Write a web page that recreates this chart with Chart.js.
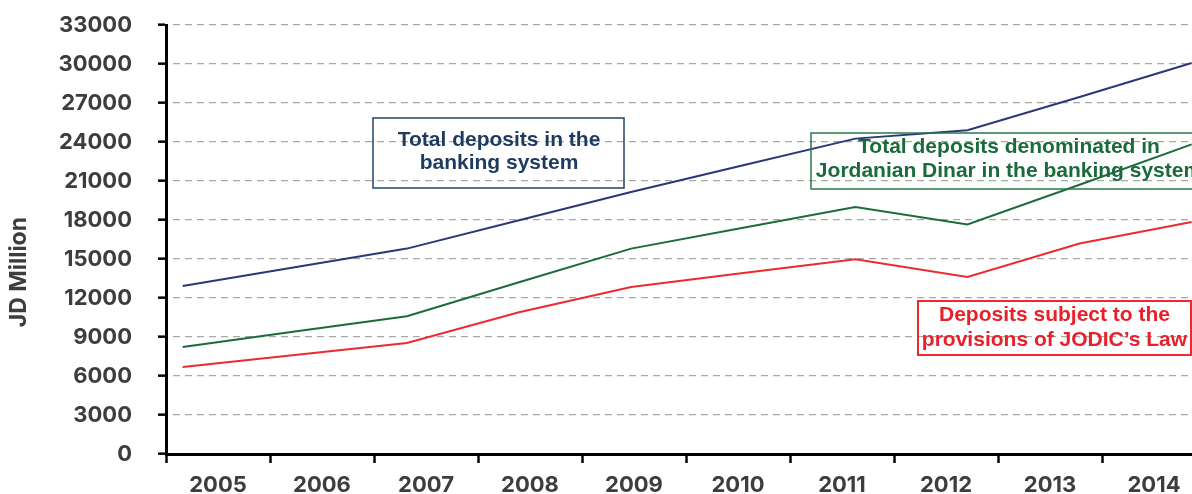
<!DOCTYPE html>
<html>
<head>
<meta charset="utf-8">
<script src="https://cdn.jsdelivr.net/npm/chart.js@4/dist/chart.umd.min.js"></script>
<style>
  html, body { margin: 0; padding: 0; background: #ffffff; overflow: hidden; }
  #wrap { position: relative; width: 1215px; height: 494px; }
</style>
</head>
<body>
<div id="wrap"><canvas id="chart"></canvas></div>
<script>
// Years on the category axis
const years = ['2005', '2006', '2007', '2008', '2009', '2010', '2011', '2012', '2013', '2014'];

// Deposits, JD million
const totalDeposits = [12920, 14360, 15800, 17980, 20150, 22210, 24260, 24900, 27460, 30080];
const dinarDeposits = [8230, 9420, 10590, 13210, 15800, 17400, 19000, 17650, 20710, 23820];
const jodicDeposits = [6690, 7620, 8540, 10900, 12850, 13920, 14980, 13620, 16190, 17850];

// Value axis labels
const yTickLabels = ['0', '3000', '6000', '9000', '12000', '15000', '18000', '21000', '24000', '27000', '30000', '33000'];

const axisFont = { family: 'Inter', size: 22, weight: 'bold', lineHeight: 1 };
const axisText = '#3d3d3d';

// Series points sit on their own hidden index axis
const toPoints = vals => vals.map((v, i) => ({ x: i, y: v }));

// Captions with frames, drawn over the lines
const captions = [
  { lines: ['Total deposits in the', 'banking system'], color: '#1c3b5e', border: '#1f4468',
    rect: [373, 118, 251, 70], cx: 499, ys: [140, 163.5], bw: 1.5 },
  { lines: ['Total deposits denominated in', 'Jordanian Dinar in the banking system'], color: '#1a6a3c', border: '#2b7a4c',
    rect: [811, 133, 397, 56], cx: 1009, ys: [147.5, 171.5], bw: 1.5 },
  { lines: ['Deposits subject to the', 'provisions of JODIC\u2019s Law'], color: '#e8202a', border: '#ec2a32',
    rect: [918, 301, 273, 54], cx: 1054.5, ys: [315.5, 340.5], bw: 2 }
];

const captionPlugin = {
  id: 'captions',
  afterDatasetsDraw(chart) {
    const ctx = chart.ctx;
    ctx.save();
    captions.forEach(c => {
      ctx.lineWidth = c.bw;
      ctx.strokeStyle = c.border;
      ctx.strokeRect(c.rect[0], c.rect[1], c.rect[2], c.rect[3]);
      ctx.fillStyle = c.color;
      ctx.font = 'bold 21px "Liberation Sans", Arial, sans-serif';
      ctx.textAlign = 'center';
      ctx.textBaseline = 'middle';
      c.lines.forEach((t, i) => ctx.fillText(t, c.cx, c.ys[i]));
    });
    ctx.restore();
  }
};

// Rotated value-axis title, set a little below the axis middle
const axisTitlePlugin = {
  id: 'axisTitle',
  afterDraw(chart) {
    const { ctx, chartArea } = chart;
    const y = chartArea.top + (chartArea.bottom - chartArea.top) * 0.576;
    ctx.save();
    ctx.translate(19, y);
    ctx.rotate(-Math.PI / 2);
    ctx.font = 'bold 23px Inter, sans-serif';
    ctx.fillStyle = axisText;
    ctx.textAlign = 'center';
    ctx.textBaseline = 'middle';
    ctx.fillText('JD Million', 0, 0);
    ctx.restore();
  }
};

const lineStyle = color => ({
  borderColor: color,
  backgroundColor: color,
  borderWidth: 2,
  pointRadius: 0,
  pointHoverRadius: 0,
  tension: 0,
  fill: false,
  xAxisID: 'x2',
  yAxisID: 'y'
});

new Chart(document.getElementById('chart'), {
  type: 'line',
  data: {
    labels: years,
    datasets: [
      { label: 'Total deposits in the banking system', data: toPoints(totalDeposits), ...lineStyle('#2c3778') },
      { label: 'Total deposits denominated in Jordanian Dinar in the banking system', data: toPoints(dinarDeposits), ...lineStyle('#1c6b3a') },
      { label: 'Deposits subject to the provisions of JODIC\u2019s Law', data: toPoints(jodicDeposits), ...lineStyle('#ee2a2e') }
    ]
  },
  options: {
    responsive: true,
    maintainAspectRatio: false,
    animation: false,
    layout: { padding: { top: 25, right: 9, bottom: 0, left: 0 } },
    plugins: { legend: { display: false }, tooltip: { enabled: false } },
    scales: {
      x: {
        type: 'category',
        offset: true,
        afterFit(scale) { scale.height = 40; },
        grid: {
          offset: true,
          drawOnChartArea: false,
          drawTicks: true,
          tickLength: 9,
          tickColor: '#000000',
          tickWidth: 2.5
        },
        border: { display: true, color: '#000000', width: 3 },
        ticks: { color: axisText, font: axisFont, padding: 11, maxRotation: 0, autoSkip: false }
      },
      x2: {
        type: 'linear',
        display: false,
        min: -0.149,
        max: 9.128
      },
      y: {
        type: 'linear',
        min: 0,
        max: 33000,
        afterFit(scale) {
          // fixed axis gutter; the wide label gap should not push the plot down
          scale.width = 166;
          scale.paddingTop = 11;
          scale.paddingBottom = 11;
        },
        ticks: {
          stepSize: 3000,
          color: axisText,
          font: axisFont,
          padding: 26,
          callback: (value, index) => yTickLabels[index] ?? String(value)
        },
        grid: {
          color: '#a8a8a8',
          lineWidth: 1.3,
          drawTicks: true,
          tickLength: 8,
          tickColor: '#000000',
          tickWidth: 2.5
        },
        border: { display: true, color: '#000000', width: 3, dash: [7, 5], dashOffset: 7 }
      }
    }
  },
  plugins: [captionPlugin, axisTitlePlugin]
});
</script>
</body>
</html>
